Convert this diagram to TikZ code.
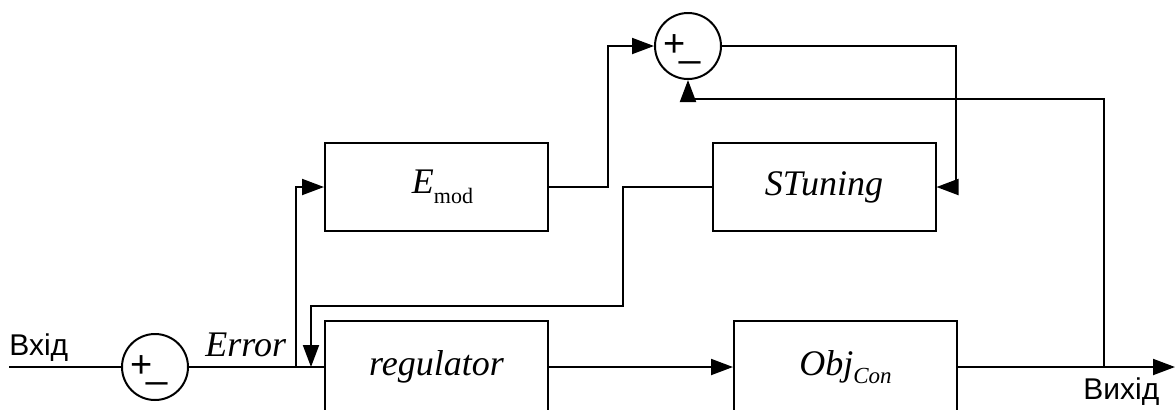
\documentclass[tikz,border=0pt]{standalone}
\usepackage{fontspec}
\setmainfont{Liberation Serif}
\newfontfamily\uafont{Liberation Sans}
\usetikzlibrary{positioning, arrows.meta, calc}

% plus and minus inside a summing circle
\newcommand{\sumsign}{\raisebox{0pt}[0pt][0pt]{%
  \rlap{\hspace*{-12.5pt}\raisebox{-5.2pt}{+}}%
  \rlap{\hspace*{-4.1pt}\raisebox{-5.3pt}{\_}}}}

\begin{document}
\begin{tikzpicture}[
  x=0.5pt, y=-0.5pt,
  font=\fontsize{18}{20}\selectfont,
  >={Triangle[length=11pt,width=8pt]},
  block/.style={draw, line width=1pt, minimum width=111.5pt, minimum height=44pt, align=center, font=\fontsize{18}{20}\selectfont\itshape},
  lowblock/.style={block, minimum height=46pt},
  sumnode/.style={draw, circle, line width=1pt, minimum size=33pt, inner sep=0pt, font=\uafont\fontsize{19}{19}\selectfont},
  arr/.style={->, line width=1pt},
  wire/.style={line width=1pt},
  lbl/.style={font=\uafont\fontsize{15}{16}\selectfont, inner sep=0pt}
]
\useasboundingbox (0,0) rectangle (1175,409);

\node[sumnode] (sumin) at (155,367) {\sumsign};
\node[sumnode] (sumtop) at (688,46) {\sumsign};
\node[block] (emod) at (436.5,187) {\hspace*{6pt}\textit{E}\raisebox{-5pt}{\upshape\fontsize{11}{11}\selectfont mod}};
\node[block] (stun) at (824,187) {STuning};
\node[lowblock] (reg) at (436.5,367) {regulator};
\node[lowblock] (obj) at (845.5,367) {Obj\raisebox{-4pt}{\fontsize{11.5}{12}\selectfont Con}};

\coordinate (in) at (9,367);
\coordinate (out) at (1175,367);
\coordinate (br) at (296,367);
\coordinate (fb) at (1104,367);
\coordinate (tune) at (311,367);

\node[lbl, anchor=base west] (vhid) at (9,355) {Вхід};
\node[inner sep=0pt, anchor=base west] (err) at (205,356) {\textit{Error}};
\node[lbl, anchor=base west] (vyhid) at (1083,399) {Вихід};

\draw[wire] (in) -- (sumin);
\draw[wire] (sumin) -- (reg);
\draw[arr] (br) |- (emod);
\draw[arr] (emod.east) -- ++(59,0) |- (sumtop);
\draw[arr] (sumtop) -| (956,187) -- (stun);
\draw[arr] (stun) -| (623,306) -| (tune);
\draw[arr] (reg) -- (obj);
\draw[arr] (obj) -- (out);
\draw[arr] (fb) |- (688,99) -- (sumtop);
\end{tikzpicture}
\end{document}
